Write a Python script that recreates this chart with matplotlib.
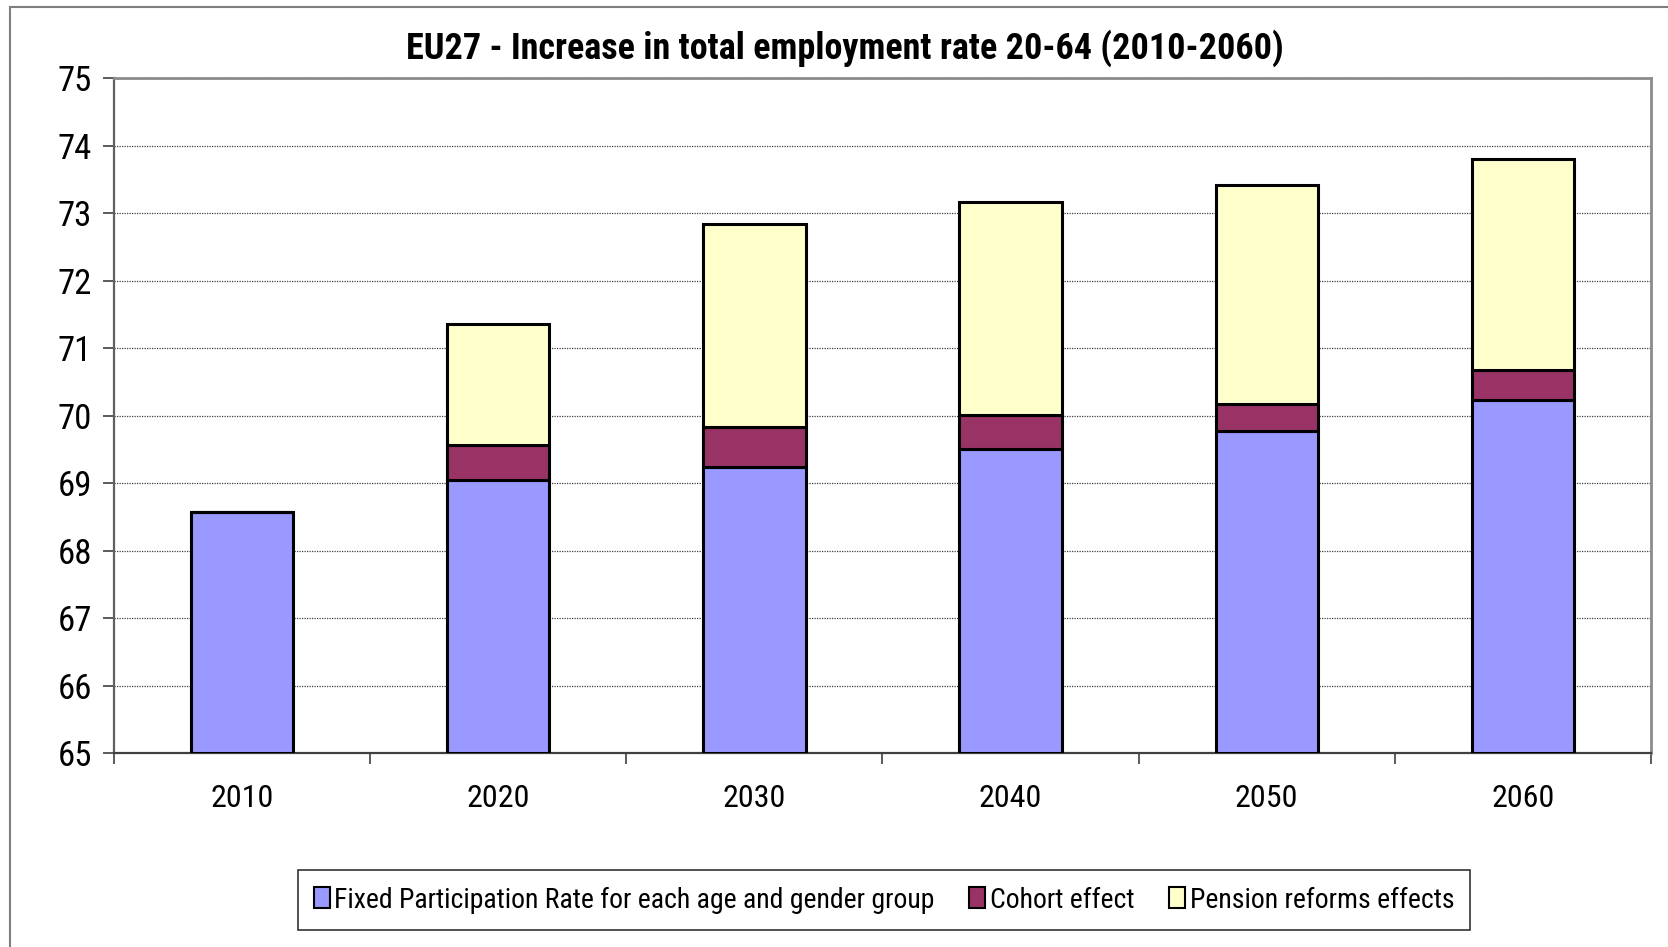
import matplotlib
matplotlib.use("Agg")
import matplotlib.pyplot as plt
from matplotlib.patches import Rectangle
from matplotlib import font_manager

years = ["2010", "2020", "2030", "2040", "2050", "2060"]
fixed_rate = [68.57, 69.05, 69.24, 69.50, 69.77, 70.23]
cohort_effect = [0.0, 0.52, 0.59, 0.51, 0.40, 0.44]
pension_effect = [0.0, 1.78, 3.01, 3.16, 3.24, 3.13]
series_names = ["Fixed Participation Rate for each age and gender group",
                "Cohort effect", "Pension reforms effects"]
series_colors = ["#9999FF", "#993366", "#FFFFCC"]
title = "EU27 - Increase in total employment rate 20-64 (2010-2060)"
base = 65

# pick a narrow sans face if one is installed
entries = font_manager.fontManager.ttflist
names = {f.name for f in entries}
family, stretch = "Liberation Sans", "normal"
for cand in ["Liberation Sans Narrow", "Arial Narrow", "Roboto Condensed",
             "Noto Sans Condensed", "Open Sans Condensed", "DejaVu Sans Condensed"]:
    if cand in names:
        family = cand
        break
else:
    for f in entries:
        if f.name in ("Liberation Sans", "Noto Sans", "Roboto", "Open Sans", "DejaVu Sans") \
                and str(f.stretch) in ("condensed", "semi-condensed", "extra-condensed", "75", "87.5"):
            family, stretch = f.name, f.stretch
            break
plt.rcParams["font.family"] = [family, "DejaVu Sans"]
plt.rcParams["font.stretch"] = stretch

W, H = 1668, 947
fig = plt.figure(figsize=(W / 100, H / 100), dpi=100)
fig.patch.set_facecolor("white")

# outer chart frame
fig.add_artist(Rectangle((10 / W, -0.05), 1.2, 1 - 7 / H + 0.05, transform=fig.transFigure,
                         fill=False, edgecolor="#7f7f7f", linewidth=1.5))

ax = fig.add_axes([114 / W, 1 - 753 / H, (1651 - 114) / W, (753 - 78) / H])
x = list(range(len(years)))
width = 0.40
edge = dict(edgecolor="black", linewidth=2.2)

bottom1 = [f - base for f in fixed_rate]
ax.bar(x, bottom1, width, bottom=base, color=series_colors[0], label=series_names[0], **edge, zorder=3)
ax.bar(x, cohort_effect, width, bottom=fixed_rate, color=series_colors[1], label=series_names[1], **edge, zorder=3)
top2 = [f + c for f, c in zip(fixed_rate, cohort_effect)]
ax.bar(x, pension_effect, width, bottom=top2, color=series_colors[2], label=series_names[2], **edge, zorder=3)

ax.set_xlim(-0.5, len(years) - 0.5)
ax.set_ylim(65, 75)
ax.set_yticks(range(65, 76))
ax.yaxis.grid(True, linestyle=(0, (1, 1)), color="#404040", linewidth=0.9, zorder=0)
ax.set_axisbelow(True)

ax.set_xticks(x)
ax.set_xticklabels(years)
ax.tick_params(axis="x", length=0, pad=22, labelsize=23)
ax.set_xticks([i - 0.5 for i in range(len(years) + 1)], minor=True)
ax.tick_params(axis="x", which="minor", length=8, width=1.2, color="#404040", direction="out")
ax.tick_params(axis="y", length=8, width=1.2, color="#404040", labelsize=25, pad=8, direction="out")

for side in ["top", "right"]:
    ax.spines[side].set_color("#8c8c8c")
    ax.spines[side].set_linewidth(2)
ax.spines["left"].set_color("#606060")
ax.spines["left"].set_linewidth(1.6)
ax.spines["bottom"].set_color("#404040")
ax.spines["bottom"].set_linewidth(1.6)

title_txt = fig.text(845 / W, 1 - 48 / H, title, ha="center", va="center",
                     fontsize=26, fontweight="bold")

leg = fig.legend(loc="center", bbox_to_anchor=(884 / W, 1 - 900 / H), ncol=3, fontsize=21,
                 frameon=True, fancybox=False, edgecolor="black", handlelength=0.55,
                 handleheight=0.75, handletextpad=0.15, columnspacing=1.2, borderpad=0.55)
leg.get_frame().set_linewidth(1.2)
for h in leg.legend_handles:
    h.set_linewidth(1.5)

# size the title and legend text to the chart's proportions
renderer = fig.canvas.get_renderer()
tw = title_txt.get_window_extent(renderer).width
title_txt.set_fontsize(26 * min(895 / tw, 1.0))
lt = leg.get_texts()[0]
lw = lt.get_window_extent(renderer).width
new_fs = 21 * min(602 / lw, 1.0)
for t in leg.get_texts():
    t.set_fontsize(new_fs)

fig.savefig("out.png", dpi=100, facecolor="white")
